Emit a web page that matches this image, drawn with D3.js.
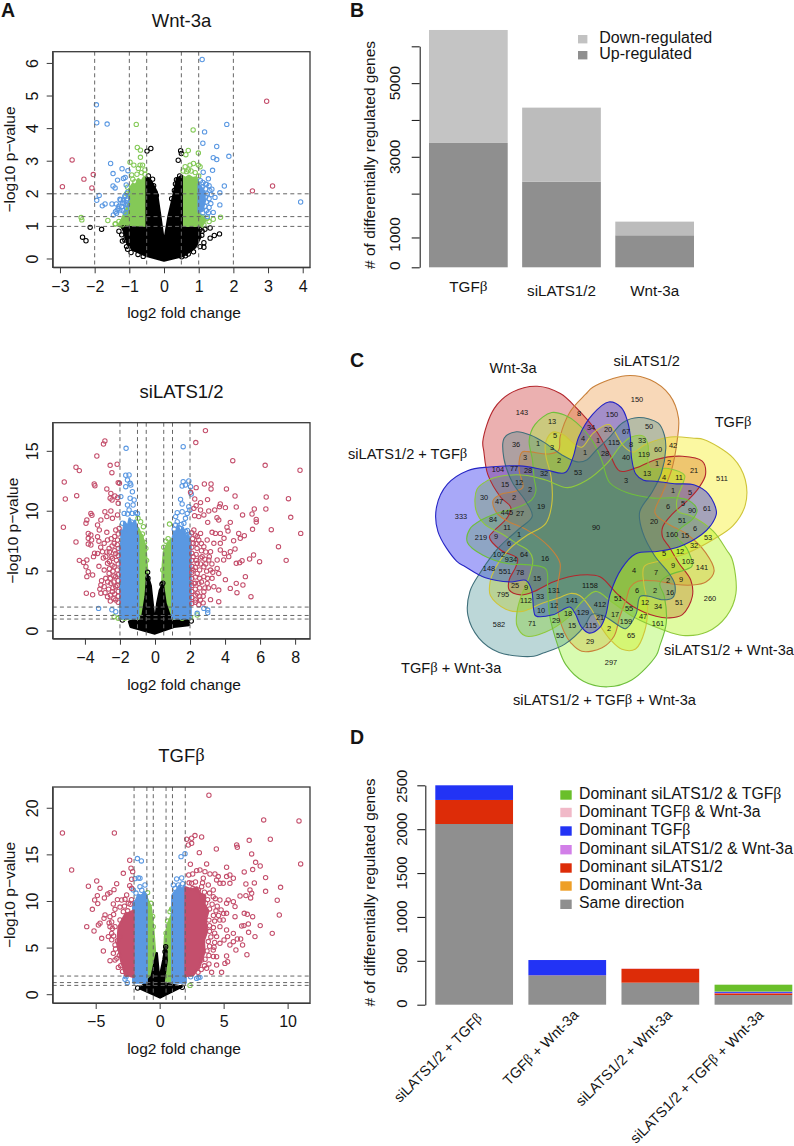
<!DOCTYPE html>
<html><head><meta charset="utf-8">
<style>
html,body{margin:0;padding:0;background:#fff}
text{font-family:"Liberation Sans",Arial,sans-serif;fill:#141414}
.beta{font-family:"Liberation Serif",serif}
</style>
<script src="https://cdn.jsdelivr.net/npm/d3@7/dist/d3.min.js"></script>
</head><body>
<svg id="fig" width="794" height="1146" viewBox="0 0 794 1146"></svg>
<script>
// ---------- Panel A: volcano plots (x = log2 FC, y = -log10 p) ----------
const wntRed=[[-2.93,2.22],[-2.65,3.04],[-2.31,2.45],[-2.04,2.59],[-2.08,2.18],[2.96,4.84],[3.13,2.24],[2.55,2.09]];
const wntBlue=[[1.10,6.12],[-1.95,4.73],[-1.94,4.18],[-1.64,4.14],[1.81,4.13],[1.17,3.90],[1.12,3.55],[1.52,3.45],[1.87,3.15],[1.42,3.11],[1.52,3.05],[-1.54,2.93],[-1.47,2.62],[-1.21,2.77],[-1.04,2.71],[-1.34,2.42],[-1.17,2.47],[-1.12,2.5],[-1.09,2.27],[-1.47,2.24],[-1.41,2.18],[-1.87,1.95],[-1.94,1.8],[-1.78,1.63],[-1.70,1.69],[-1.5,1.69],[-1.375,1.69],[-1.27,1.83],[-1.17,1.81],[-1.13,1.91],[-1.32,1.55],[-1.15,1.71],[-1.22,1.61],[-1.37,1.40],[-1.46,1.35],[-1.27,1.50],[-1.10,1.66],[-1.08,1.81],[-1.25,1.81],[1.13,2.66],[1.40,2.72],[1.28,2.46],[1.74,2.24],[1.23,2.29],[1.61,2.03],[1.47,1.89],[1.61,1.66],[1.42,1.43],[3.94,1.75],[1.38,2.14],[1.25,1.3],[1.05,2.4],[1.12,2.35],[1.2,2.3],[1.3,2.25],[1.1,2.2],[1.2,2.15],[1.32,2.1],[1.1,2.05],[1.25,2],[1.36,1.98],[1.12,1.95],[1.2,1.9],[1.3,1.85],[1.1,1.8],[1.22,1.75],[1.35,1.7],[1.08,1.68],[1.18,1.62],[1.3,1.58],[1.07,1.52],[1.22,1.48],[1.12,1.42],[1.28,1.42],[-1.05,1.85],[-1.2,1.72],[-1.08,1.55],[-1.18,1.48],[-1.3,1.62],[-1.12,1.42],[-1.05,1.68],[-1.35,1.5],[-1.4,1.45],[-1.05,2.05],[-1.12,1.95]];
const wntGreen=[[-0.80,4.13],[0.84,3.96],[-0.77,3.42],[-0.68,3.34],[-0.68,3.12],[0.70,3.33],[0.63,3.2],[0.99,3.25],[-0.98,2.97],[-0.87,2.88],[-0.69,2.88],[-0.62,2.88],[-0.74,2.78],[-0.55,2.73],[0.75,2.88],[0.85,2.93],[0.99,2.88],[0.61,2.83],[1.04,2.83],[0.7,2.73],[-0.93,2.58],[-0.84,2.37],[-2.39,1.27],[-2.37,1.2],[-1.62,1.18],[-1.41,1.07],[1.63,1.28],[1.42,1.22],[-0.55,2.6],[-0.65,2.65],[-0.78,2.6],[-0.9,2.45],[-1.05,2.2],[-1.08,2.0],[0.55,2.7],[0.65,2.68],[0.78,2.7],[0.9,2.65],[1.0,2.55],[-1.3,1.15],[-1.2,1.05],[-1.1,1.25],[-1.4,1.08],[1.1,1.3],[1.25,1.25],[1.3,1.15],[1.15,1.05],[1.05,1.15]];
const wntBlack=[[-0.49,3.31],[-0.38,3.39],[0.48,3.32],[0.5,3.24],[0.41,3.03],[-2.13,0.97],[-1.80,0.91],[-2.35,0.67],[-2.25,0.56],[1.18,0.91],[1.33,0.95],[1.33,0.64],[1.45,0.72],[1.6,0.77],[1.15,0.36],[-1.13,0.58],[-1.22,0.74],[-1.08,0.38],[-0.88,0.33],[1.04,0.38],[0.85,0.22],[0.51,0.07],[0.70,0.15],[1.09,0.73],[-0.45,2.55],[-0.33,2.45],[0.36,2.43],[0.45,2.55],[-1.2,0.55],[-1.15,0.95],[-1.05,0.3],[-0.95,0.2],[-0.75,0.14],[-0.6,0.08],[1.1,0.85],[1.15,0.5],[0.75,0.28],[0.62,0.1],[-1.3,0.85],[1.03,0.9],[-0.3,2.25],[-0.22,1.95],[-0.42,2.28],[0.3,2.1],[0.33,2.3],[0.22,1.85]];
const wntBlackMass=[[-0.5,2.5],[-0.38,2.4],[-0.21,2.05],[-0.12,1.4],[0,0.48],[0.13,1.3],[0.27,1.95],[0.37,2.45],[0.51,2.55],[0.51,0.94],[1.0,0.94],[1.05,0.68],[0.9,0.36],[0.56,0.1],[0,-0.05],[-0.5,0.1],[-0.85,0.26],[-1.05,0.45],[-1.15,0.84],[-1.2,0.99],[-0.5,0.94]];
const wntGreenMass=[[[-0.5,0.94],[-1.18,0.94],[-1.32,1.04],[-1.22,1.2],[-1.0,1.75],[-1.0,2.15],[-0.9,2.3],[-0.82,2.25],[-0.74,2.45],[-0.65,2.38],[-0.58,2.5],[-0.5,2.5]],[[0.51,2.55],[0.62,2.48],[0.72,2.55],[0.82,2.48],[0.92,2.5],[1.0,2.35],[1.0,1.4],[1.2,1.2],[1.08,0.99],[0.51,0.94]]];
const wntBlueMass=[[[1.0,2.3],[1.14,2.1],[1.18,1.8],[1.12,1.55],[1.0,1.45]]];
const wntRedMass=[];

const latsRed=[[-2.94,15.61],[-2.86,15.86],[-3.32,14.61],[-4.51,13.67],[-4.32,13.39],[-2.16,13.92],[-2.56,13.83],[-2.46,13.22],[-5.18,12.44],[-3.47,12.27],[-3.43,12.13],[-2.10,12.39],[-2.03,12.33],[-2.75,11.86],[-5.12,11.02],[-4.47,11.30],[-2.52,11.49],[-2.29,11.27],[-2.14,11.13],[-2.56,11.08],[-2.45,10.94],[-2.10,10.66],[-5.23,8.66],[-4.51,7.43],[-3.66,9.82],[-3.60,9.66],[-3.89,9.27],[-3.94,8.99],[-2.86,9.96],[-2.52,10.02],[-2.14,9.69],[-2.75,9.55],[-2.43,9.41],[-3.09,9.27],[-3.28,8.85],[-3.18,8.43],[-3.81,8.15],[-3.66,8.02],[-3.81,7.74],[-3.62,7.60],[-3.81,7.26],[-3.66,7.18],[-3.28,7.88],[-2.75,8.24],[-2.24,8.43],[-2.05,8.57],[-4.32,5.90],[-4.08,5.73],[-3.89,5.93],[-3.94,5.37],[-3.81,4.95],[-3.89,4.54],[-3.56,4.68],[-3.92,3.15],[-3.56,3.03],[-3.51,6.21],[-3.28,6.48],[-2.90,7.32],[-2.71,7.60],[-3.0,6.62],[-2.62,6.90],[-2.33,7.32],[-2.14,7.60],[-2.81,6.21],[-2.43,6.07],[-2.24,6.48],[-2.71,5.65],[-2.33,5.37],[-2.90,5.09],[-2.62,4.81],[-2.24,4.54],[-2.81,4.40],[-3.09,3.84],[-2.90,3.70],[-2.52,3.98],[-2.24,3.70],[-3.09,3.15],[-2.71,2.87],[-2.43,3.28],[-2.24,2.59],[2.88,16.73],[2.33,15.73],[4.44,14.22],[6.29,13.83],[8.28,13.42],[6.35,11.19],[7.62,11.05],[4.57,11.27],[4.08,11.86],[3.20,12.27],[2.82,12.27],[3.20,11.86],[2.35,11.97],[2.03,11.58],[3.0,10.97],[2.27,11.02],[2.60,10.72],[2.35,10.46],[3.73,10.60],[3.68,10.38],[4.02,10.30],[4.64,10.35],[6.33,10.19],[5.67,10.19],[5.54,9.77],[5.0,9.69],[5.78,9.32],[5.78,9.10],[7.75,9.49],[2.22,10.24],[2.60,10.10],[3.07,10.02],[3.41,10.10],[2.26,9.63],[2.79,9.69],[2.50,9.55],[3.01,9.07],[3.54,9.46],[3.64,9.27],[4.30,9.07],[4.11,8.66],[4.17,8.35],[6.64,8.46],[5.57,8.49],[8.32,8.15],[4.78,8.15],[5.10,7.96],[4.87,7.74],[4.49,7.54],[7.05,7.04],[7.49,5.90],[5.97,5.79],[5.63,6.35],[5.40,6.01],[4.97,5.87],[4.83,5.71],[4.64,5.65],[4.57,6.85],[4.30,6.62],[3.96,6.48],[4.21,6.21],[5.16,4.54],[4.02,4.29],[4.64,3.98],[5.02,3.84],[4.30,3.56],[4.68,3.20],[5.48,2.87],[3.64,2.45],[3.17,2.62],[3.73,8.15],[3.45,8.15],[3.26,8.24],[3.94,7.74],[3.73,7.32],[3.36,7.32],[2.98,7.6],[2.6,8.15],[2.41,7.88],[2.22,8.43],[2.79,7.04],[3.17,6.62],[3.73,6.76],[3.55,5.93],[3.92,5.93],[3.07,5.93],[2.69,6.21],[2.41,5.65],[2.79,5.37],[3.17,5.09],[3.55,5.23],[3.64,4.81],[3.26,4.40],[2.79,4.54],[2.41,4.81],[2.50,3.98],[2.98,3.98],[3.36,3.70],[3.64,3.42],[2.79,3.28],[2.41,3.15],[2.6,2.59],[2.31,2.59],[2.22,3.98],[2.18,5.09],[2.18,6.21],[2.18,7.32],
[-2.1,8.1],[-2.3,7.9],[-2.5,7.7],[-2.15,7.2],[-2.45,7.1],[-2.1,6.9],[-2.6,6.6],[-2.3,6.7],[-2.1,6.3],[-2.5,6.2],[-2.75,6.6],[-2.95,6.1],[-2.2,5.9],[-2.6,5.8],[-2.1,5.6],[-2.45,5.5],[-2.15,5.1],[-2.4,5.0],[-2.6,5.2],[-2.1,4.7],[-2.35,4.6],[-2.55,4.4],[-2.1,4.2],[-2.35,4.1],[-2.7,4.1],[-2.15,3.8],[-2.4,3.6],[-2.65,3.5],[-2.1,3.3],[-2.3,3.1],[-2.55,3.0],[-2.85,3.2],[-2.1,2.9],[-2.35,2.7],[-2.55,2.5],[-2.1,2.4],[-3.15,3.5],[-3.05,4.2],[-3.2,5.4],[-3.1,7.0],[-3.45,6.5],[-3.2,7.5],
[2.1,8.2],[2.3,8.0],[2.5,7.6],[2.15,7.7],[2.35,7.3],[2.65,7.3],[2.1,7.0],[2.4,6.9],[2.65,6.7],[2.9,6.6],[2.1,6.5],[2.35,6.4],[2.6,6.1],[2.85,6.0],[3.1,6.2],[2.1,5.9],[2.35,5.9],[2.6,5.6],[2.9,5.6],[3.25,5.6],[2.1,5.4],[2.3,5.3],[2.55,5.1],[2.95,5.0],[3.3,4.9],[2.1,4.9],[2.3,4.5],[2.55,4.4],[3.0,4.4],[2.1,4.4],[2.3,4.0],[2.65,4.1],[3.05,3.6],[2.1,3.8],[2.3,3.5],[2.55,3.6],[2.85,3.6],[2.1,3.3],[2.3,3.0],[2.55,2.9],[2.1,2.8],[2.3,2.4],[2.5,2.2],[2.1,2.3],[2.75,2.9],[2.75,2.35]];
const latsBlue=[[-1.65,15.25],[1.61,15.39],[-1.67,13.0],[-1.48,13.03],[-1.57,12.61],[-1.42,12.33],[-1.67,12.05],[-1.38,12.19],[-1.29,11.63],[-1.42,11.08],[-1.19,10.94],[-1.95,11.22],[-1.25,10.52],[-1.57,10.52],[-1.48,10.1],[-1.76,9.82],[-1.57,9.77],[-1.29,9.82],[-1.1,9.88],[-1.0,9.82],[1.61,12.47],[1.93,12.52],[1.55,12.11],[1.74,12.19],[2.03,12.05],[2.07,11.44],[1.46,10.99],[1.55,10.6],[1.93,10.38],[1.99,10.1],[1.27,9.88],[1.55,9.96],[1.84,9.82],[1.18,9.55],[1.74,9.41],[1.27,9.13],[1.65,8.99],[1.18,8.85],[-3.22,1.89],[-2.46,1.78],[-2.24,1.61],[3.01,1.75],[3.01,1.53],[2.79,1.89],[2.41,1.48],[-1.85,9.0],[-1.7,8.4],[-1.35,9.1],[-1.2,8.9],[-1.1,8.6],[1.1,8.5],[1.4,8.6],[1.5,8.9],[1.85,8.4],[1.95,8.0],[1.75,8.3]];
const latsGreen=[[0.83,8.93],[-0.82,9.13],[-0.66,8.71],[-0.97,9.41],[-0.72,8.1],[-2.33,1.2],[-1.95,1.14],[-1.48,1.14],[-1,1.14],[1.08,1.14],[1.55,1.06],[2.03,1.14],[2.41,1.34],[-1.73,1.06],[-2.1,1.06],[-0.8,7.9],[-0.6,7.4],[-0.52,6.9],[0.62,7.5],[0.75,7.7],[0.5,7.0],[-0.48,5.9],[0.44,5.1]];
const latsBlack=[[2.07,0.83],[-1.86,0.92],[-0.42,4.9],[-0.4,4.4],[0.4,3.9],[0.45,4.0]];
const latsBlackMass=[[-0.44,4.7],[-0.25,3.8],[-0.1,1.8],[0,0.65],[0.13,2.3],[0.28,3.4],[0.45,3.9],[0.6,2.31],[0.89,1.06],[1.84,1.06],[1.93,0.5],[1.08,0.36],[0,-0.2],[-1.39,0.36],[-1.48,0.78],[-0.72,1.2],[-0.53,2.9]];
const latsGreenMass=[[[-0.97,1.06],[-0.97,8.6],[-0.72,7.8],[-0.55,7.1],[-0.44,4.81],[-0.63,2.59],[-0.66,1.06]],[[0.99,1.06],[0.99,7.7],[0.72,7.3],[0.51,6.6],[0.45,5.5],[0.42,3.98],[0.64,2.31],[0.8,1.06]]];
const latsBlueMass=[[[-1.97,1.06],[-2.0,7.0],[-1.9,7.6],[-1.95,8.4],[-1.8,8.3],[-1.75,9.1],[-1.55,8.7],[-1.45,9.4],[-1.3,8.6],[-1.15,9.2],[-1.05,8.4],[-0.97,7.9],[-0.97,1.06]],[[0.99,1.06],[0.99,7.6],[1.1,8.3],[1.2,8.1],[1.3,8.8],[1.45,8.2],[1.6,8.6],[1.75,7.9],[1.9,8.0],[2.03,7.2],[2.03,1.06]]];
const latsRedMass=[];

const tgfRed=[[3.85,21.4],[8.13,18.75],[10.89,18.64],[-7.6,17.35],[-3.54,17.35],[8.65,16.67],[7.0,16.56],[6.02,16.06],[6.07,15.81],[4.43,15.63],[7.19,15.10],[3.10,15.24],[-6.88,13.38],[-2.34,14.42],[-2.24,13.56],[-2.84,13.02],[11.02,14.03],[3.67,14.03],[2.40,13.99],[7.5,14.2],[7.86,13.81],[7.27,13.42],[6.61,13.17],[5.23,13.67],[8.28,12.56],[7.40,11.99],[6.74,11.88],[8.28,11.09],[9.45,11.52],[7.06,11.23],[7.19,10.88],[6.74,10.63],[7.11,10.38],[6.28,10.59],[9.19,10.13],[9.35,8.55],[8.8,6.58],[7.86,7.41],[6.85,8.62],[6.61,8.73],[7.27,8.37],[6.41,7.37],[6.93,7.59],[6.59,7.41],[6.95,6.69],[7.45,6.23],[6.33,5.97],[6.07,5.97],[6.48,5.33],[6.82,4.29],[5.23,4.15],[5.31,3.54],[5.10,3.36],[4.84,2.4],[4.06,2.4],[5.96,4.79],[5.76,5.69],[5.31,6.23],[5.03,5.87],[5.49,5.33],[2.11,16.67],[2.5,16.78],[2.76,17.07],[3.28,16.92],[2.24,16.06],[2.5,16.24],[3.15,13.38],[3.54,13.2],[3.93,12.95],[4.32,12.95],[4.58,12.67],[4.71,11.95],[4.97,11.95],[5.23,12.67],[5.49,12.84],[5.76,12.49],[5.49,11.95],[4.45,12.31],[4.19,11.23],[4.19,10.52],[4.71,10.16],[5.23,9.8],[5.76,9.98],[5.36,10.16],[5.89,9.45],[5.23,8.73],[5.89,8.37],[4.97,8.01],[4.71,7.3],[5.23,6.94],[5.76,6.58],[4.45,6.23],[4.71,5.51],[4.19,4.79],[4.45,4.08],[4.45,3.18],[3.67,2.83],[3.28,3.72],[2.89,13.31],[2.58,12.95],[2.27,12.84],[2.5,11.95],[3.41,12.49],[3.8,11.77],[3.28,11.59],[3.02,11.23],[-5.57,11.63],[-4.92,12.2],[-4.66,11.41],[-4.87,10.63],[-5.08,10.16],[-4.84,9.77],[-5.26,9.16],[-5.70,7.30],[-5.13,6.83],[-3.36,11.91],[-3.57,11.27],[-3.88,10.95],[-4.06,10.8],[-4.32,10.38],[-2.34,11.7],[-2.19,11.41],[-2.58,10.7],[-2.71,10.23],[-2.97,10.16],[-3.62,9.73],[-3.49,9.16],[-2.19,12.38],[-2.11,13.2],[-4.66,7.66],[-4.79,7.48],[-4.27,8.55],[-4.35,8.19],[-3.88,8.37],[-4.53,6.05],[-4.4,4.69],[-3.88,3.65],[-3.49,3.72],[-3.23,2.93],[-3.62,4.44],[-3.49,5.33],[-3.1,6.23],[-4.01,6.23],[-3.75,6.58],[-3.88,7.3],[-3.49,7.3],[-3.1,8.01],[-2.84,8.91],[-2.45,9.8],
[3.5,11.0],[3.9,10.9],[3.3,10.5],[3.75,10.2],[4.35,10.3],[3.6,9.8],[4.1,9.7],[4.5,9.5],[3.9,9.2],[4.4,9.0],[4.8,9.1],[5.0,8.7],[4.2,8.5],[4.6,8.5],[3.85,8.0],[4.3,7.9],[4.7,8.0],[3.9,7.4],[4.2,7.2],[3.9,6.8],[4.3,6.6],[4.0,6.2],[3.8,5.7],[4.3,5.6],[3.9,5.2],[4.25,5.1],[3.7,4.7],[3.85,4.2],[4.2,4.1],[3.55,3.8],[3.85,3.3],[3.5,3.1],[3.25,2.7],[3.0,2.4],[3.35,12.0],[2.8,12.1],[2.3,12.0],[2.6,11.4],
[-3.3,10.2],[-3.6,8.6],[-3.1,9.4],[-3.75,7.8],[-3.95,7.7],[-3.7,7.1],[-3.6,6.3],[-3.75,5.9],[-3.3,5.8],[-3.45,4.9],[-3.15,4.2],[-3.35,3.9],[-3.05,3.1],[-2.9,2.5],[-2.6,2.2],[-2.75,9.5],[-2.5,9.0],[-2.3,9.7],[-2.2,10.2]];
const tgfBlue=[[-1.74,14.6],[-1.43,14.35],[-1.93,12.45],[-1.67,12.52],[-1.54,12.49],[-1.54,11.59],[-1.15,11.77],[-2.06,11.23],[1.67,14.81],[1.98,15.13],[1.33,12.42],[1.72,12.52],[1.07,11.77],[1.46,11.77],[-2.53,1.29],[-2.63,1.93],[-2.71,1.65],[2.89,1.75],[3.15,1.86],[3.02,1.86],[2.42,1.93],[-1.85,10.9],[-1.4,11.2],[1.2,11.4],[1.8,11.9]];
const tgfGreen=[[-0.94,10.95],[-0.68,9.8],[0.94,9.2],[0.81,8.91],[0.99,9.09],[2.37,1.0],[-0.55,8.4],[-0.5,7.3],[0.62,7.9],[0.5,6.6]];
const tgfBlack=[[0.47,5.15],[0.42,4.6],[-1.72,0.72],[1.77,0.79]];
const tgfBlackMass=[[-0.63,1.93],[-0.23,4.44],[-0.03,1.57],[0.29,3.72],[0.47,5.15],[0.55,3.72],[0.29,1.22],[1.72,0.86],[0.03,-0.29],[-1.54,0.68]];
const tgfGreenMass=[[[-1.02,1.3],[-1.02,10.4],[-0.7,9.4],[-0.52,7.3],[-0.36,4.44],[-0.23,1.57]],[[0.99,1.3],[0.99,8.7],[0.68,7.7],[0.42,6.23],[0.34,3.72],[0.29,1.57]]];
const tgfBlueMass=[[[-2.06,1.3],[-2.06,9.9],[-1.85,10.1],[-1.67,10.7],[-1.4,10.6],[-1.2,11.0],[-1.02,10.6],[-1.02,1.3]],[[0.99,1.3],[0.99,10.6],[1.15,11.0],[1.33,11.2],[1.55,11.7],[1.75,11.2],[1.93,11.7],[2.03,11.2],[2.03,1.3]]];
const tgfRedMass=[[[-2.06,9.0],[-2.7,8.6],[-3.2,7.3],[-3.3,5.5],[-3.0,3.6],[-2.7,2.2],[-2.06,1.93]],[[2.03,11.5],[2.5,11.3],[2.9,11.5],[3.2,10.8],[3.55,10.6],[3.5,9.7],[3.8,9.0],[3.6,8.0],[3.7,6.8],[3.45,5.8],[3.5,4.6],[3.1,3.0],[2.6,2.1],[2.03,2.0]]];

const volcanoVLines=[-2,-1,-0.5,0.5,1,2];
const volcanoHLines=[1,1.3,2];
const wntXTicks=[-3,-2,-1,0,1,2,3,4], wntYTicks=[0,1,2,3,4,5,6];
const latsXTicks=[-4,-2,0,2,4,6,8], latsYTicks=[0,5,10,15];
const tgfXTicks=[-5,0,5,10], tgfYTicks=[0,5,10,15,20];

// ---------- Panel B ----------
const bCategories=["TGFβ","siLATS1/2","Wnt-3a"];
const bUp=[3376,2326,869];
const bDown=[3067,2009,371];
const bLegend=["Down-regulated","Up-regulated"];
const bTickValues=[0,810,2000,3000,4000,5000,6000];
const bTickLabels=["0","1000","","3000","","5000",""];

// ---------- Panel C: 7-set Venn ----------
const vennSets=["Wnt-3a","siLATS1/2","TGFβ","siLATS1/2 + Wnt-3a","siLATS1/2 + TGFβ + Wnt-3a","TGFβ + Wnt-3a","siLATS1/2 + TGFβ"];
const vennOutline=[[-57.3,-143.7],[-34,-136.3],[-17.3,-121.3],[2.7,-98],[16,-74.7],[26,-58],[42.7,-61.3],[62.7,-69.7],[89.3,-73],[109.3,-68],[112.7,-54.7],[106,-41.3],[96,-29.7],[79.3,-14.7],[69.3,-1.3],[69.3,8.7],[76,18.7],[86,35.3],[97.7,52],[99.3,68.7],[89.3,87],[76,90.3],[62.7,88.7],[39.3,78.7],[22.7,65.3],[6,48.7],[-14,47],[-40.7,53.7],[-60.7,63.7],[-74,67],[-85.7,62],[-85.7,52],[-79,38.7],[-77.3,30.3],[-94,22],[-105.7,8.7],[-102.3,3.7],[-87.3,-11.3],[-84,-21.3],[-94,-31.3],[-107.3,-54.7],[-111.3,-78],[-112.3,-88],[-100.7,-121.3],[-82,-138]];
const vennFill=["#be0000","#e67400","#f4ec00","#abf400","#96f429","#207b7d","#0000ea"];
const vennAlpha=[0.31,0.28,0.37,0.37,0.37,0.30,0.34];
const vennStroke=["#b3262c","#c9813a","#cfc53a","#8fc93c","#6fbf3c","#3f6f7a","#2424c4"];
const vennDrawOrder=[0,1,2,3,4,6,5];
// counts and the spot (in reference pixels) where each is printed
const vennCounts=[143,13,5,8,34,150,20,4,1,115,36,1,3,1,28,3,2,104,77,28,32,53,15,12,2,30,2,47,19,445,27,333,84,11,90,219,9,1,6,
150,50,67,33,8,60,42,119,40,1,2,21,511,13,4,11,3,1,5,6,5,90,61,20,51,6,160,15,53,32,
5,12,9,103,141,4,7,2,9,6,2,16,260,51,12,51,34,55,17,47,159,161,2,65,297,
102,64,934,16,148,551,78,15,25,9,1158,795,131,33,112,141,412,12,10,18,129,21,582,71,29,15,115,55,29];
const vennCountSpots=[[522,413],[552,422],[555,436],[579,414],[591,428],[612,415],[608,430],[583,439],[598,441],[614,443],[516,445],[538,444],[552,448],[585,453],[605,454],[525,458],[559,461],[498,470],[514,469],[528,471],[544,474],[578,473],[505,485],[519,483],[530,490],[484,498],[514,498],[499,502],[541,507],[507,513],[520,514],[461,517],[493,520],[507,528],[596,528],[481,538],[496,537],[519,535],[509,544],
[637,400],[649,427],[626,432],[642,441],[631,445],[658,450],[673,446],[644,455],[626,458],[657,464],[669,463],[694,471],[722,479],[647,474],[664,478],[679,478],[626,481],[673,491],[690,493],[668,507],[683,504],[692,511],[707,509],[654,522],[682,521],[695,529],[672,535],[685,536],[708,538],[694,546],
[664,554],[680,552],[673,566],[688,562],[702,568],[634,571],[656,573],[668,581],[681,580],[637,591],[655,591],[670,593],[710,599],[618,599],[645,603],[679,603],[658,607],[629,609],[615,615],[643,617],[626,622],[658,624],[609,629],[631,636],[611,663],
[499,555],[524,555],[511,560],[545,559],[489,569],[505,572],[520,573],[537,579],[515,586],[526,588],[590,586],[503,595],[554,591],[540,597],[526,601],[572,601],[600,605],[554,606],[541,611],[568,614],[583,613],[600,618],[499,625],[532,624],[556,621],[572,626],[591,626],[560,636],[590,642]];

// ---------- Panel D ----------
const dCategories=["siLATS1/2 + TGFβ","TGFβ + Wnt-3a","siLATS1/2 + Wnt-3a","siLATS1/2 + TGFβ + Wnt-3a"];
const dSeriesNames=["Same direction","Dominant Wnt-3a","Dominant siLATS1/2","Dominant siLATS1/2 & Wnt-3a","Dominant TGFβ","Dominant TGFβ & Wnt-3a","Dominant siLATS1/2 & TGFβ"];
const dSame=[2059,327,251,110];
const dWnt=[0,6,0,0];
const dLats=[274,0,156,20];
const dLatsWnt=[0,0,0,5];
const dTgf=[167,176,0,13];
const dTgfWnt=[0,0,9,2];
const dLatsTgf=[0,0,0,78];
const dSeriesValues=[dSame,dWnt,dLats,dLatsWnt,dTgf,dTgfWnt,dLatsTgf];
const dColors=["#8f8f8f","#ee9f27","#dd2c08","#d27fe8","#2233f5","#f1b9c8","#6abf2a"];
const dTicks=[0,500,1000,1500,2000,2500];

// ---------- Helpers ----------
const svg=d3.select("#fig");
const sans='"Liberation Sans",Arial,sans-serif';
function addText(sel,str,size){ // real text, with a Greek beta set in the serif face
  const parts=str.split("β");
  parts.forEach((p,i)=>{
    if(p) sel.append("tspan").text(p).style("font-size",size+"px");
    if(i<parts.length-1) sel.append("tspan").attr("class","beta").text("β").style("font-size",size+"px");
  });
  return sel;
}
function label(x,y,str,size,anchor="middle",rot=0){
  const t=svg.append("text").attr("text-anchor",anchor).attr("dominant-baseline","middle")
    .attr("transform",`translate(${x},${y}) rotate(${rot})`);
  return addText(t,str,size);
}
const line=d3.line();
function volcano(p){
  const x=d3.scaleLinear().domain(p.xd).range([52.7,310]);
  const y=d3.scaleLinear().domain(p.yd).range([p.bottom,p.top]);
  const g=svg.append("g");
  const clipId="clip"+p.id;
  g.append("clipPath").attr("id",clipId).append("rect").attr("x",52.7).attr("y",p.top).attr("width",257.3).attr("height",p.bottom-p.top);
  const plot=g.append("g").attr("clip-path",`url(#${clipId})`);
  const mass=(polys,col)=>polys.forEach(m=>plot.append("path").attr("d",line(m.map(d=>[x(d[0]),y(d[1])]))+"Z")
      .attr("fill",col).attr("stroke",col).attr("stroke-width",2.5).attr("stroke-linejoin","round"));
  const pts=(arr,col)=>plot.append("g").selectAll("circle").data(arr).join("circle")
      .attr("cx",d=>x(d[0])).attr("cy",d=>y(d[1])).attr("r",2.2).attr("fill","none").attr("stroke",col).attr("stroke-width",1.05);
  const cBlack="#000",cGreen="#84c957",cBlue="#5a98e2",cRed="#c44f6c";
  mass(p.greenMass,cGreen); mass([p.blackMass],cBlack); pts(p.black,cBlack); pts(p.green,cGreen);
  mass(p.blueMass,cBlue); pts(p.blue,cBlue);
  mass(p.redMass,cRed); pts(p.red,cRed);
  const dash={stroke:"#666","stroke-width":1,"stroke-dasharray":"4 3.2"};
  volcanoVLines.forEach(v=>{const l=plot.append("line").attr("x1",x(v)).attr("x2",x(v)).attr("y1",p.top).attr("y2",p.bottom);for(const k in dash)l.attr(k,dash[k]);});
  volcanoHLines.forEach(v=>{const l=plot.append("line").attr("x1",52.7).attr("x2",310).attr("y1",y(v)).attr("y2",y(v));for(const k in dash)l.attr(k,dash[k]);});
  g.append("rect").attr("x",52.7).attr("y",p.top).attr("width",257.3).attr("height",p.bottom-p.top).attr("fill","none").attr("stroke","#3a3a3a").attr("stroke-width",1.3);
  const ax=g.append("g").attr("transform",`translate(0,${p.bottom})`).call(d3.axisBottom(x).tickValues(p.xt).tickSize(6).tickSizeOuter(0).tickPadding(7).tickFormat(d=>String(d).replace("-","\u2212")));
  ax.select(".domain").attr("stroke","#3a3a3a");
  ax.selectAll("line").attr("stroke","#3a3a3a");
  ax.selectAll("text").style("font-size","16px").style("font-family",sans);
  const ay=g.append("g").attr("transform","translate(52.7,0)").call(d3.axisLeft(y).tickValues(p.yt).tickSize(6).tickSizeOuter(0).tickFormat(d=>String(d)));
  ay.select(".domain").attr("stroke","#3a3a3a");
  ay.selectAll("line").attr("stroke","#3a3a3a");
  ay.selectAll("text").style("font-size","16px").style("font-family",sans).attr("x",-19).attr("dy",null)
    .attr("text-anchor","middle").attr("dominant-baseline","middle").attr("transform",d=>`rotate(-90,-19,${y(d)})`).attr("y",d=>y(d));
  ay.selectAll(".tick").attr("transform",null);
  ay.selectAll(".tick line").attr("y1",d=>y(d)).attr("y2",d=>y(d));
  label(181.5,p.top-30,p.title,18.5);
  label(184,p.bottom+47,"log2 fold change",15.5);
  label(p.ylabX||11,(p.top+p.bottom)/2,"\u2212log10 p\u2212value",15.5,"middle",-90);
}
function panelTag(x,y,s){ label(x,y,s,19.5,"start").selectAll("tspan").style("font-weight","bold"); }

// ---------- Panel A draw ----------
panelTag(1,11.5,"A");
volcano({id:"w",title:"Wnt-3a",top:51.7,bottom:267.3,xd:[-3.21,4.21],yd:[-0.255,6.36],xt:wntXTicks,yt:wntYTicks,
  red:wntRed,blue:wntBlue,green:wntGreen,black:wntBlack,blackMass:wntBlackMass,greenMass:wntGreenMass,blueMass:wntBlueMass,redMass:wntRedMass});
volcano({id:"l",title:"siLATS1/2",top:422.7,bottom:638.7,xd:[-5.84,8.85],yd:[-0.64,17.39],xt:latsXTicks,yt:latsYTicks,
  red:latsRed,blue:latsBlue,green:latsGreen,black:latsBlack,blackMass:latsBlackMass,greenMass:latsGreenMass,blueMass:latsBlueMass,redMass:latsRedMass,ylabX:14});
volcano({id:"t",title:"TGFβ",top:787,bottom:1003,xd:[-8.36,11.75],yd:[-0.89,22.28],xt:tgfXTicks,yt:tgfYTicks,
  red:tgfRed,blue:tgfBlue,green:tgfGreen,black:tgfBlack,blackMass:tgfBlackMass,greenMass:tgfGreenMass,blueMass:tgfBlueMass,redMass:tgfRedMass});

// ---------- Panel B draw ----------
panelTag(350,11.5,"B");
(function(){
  const y=d3.scaleLinear().domain([0,6000]).range([267.3,46.3]);
  const x=d3.scaleBand().domain(bCategories).range([429,694]).paddingInner(0.155);
  const g=svg.append("g");
  bCategories.forEach((c,i)=>{
    g.append("rect").attr("x",x(c)).attr("width",x.bandwidth()).attr("y",y(bUp[i])).attr("height",y(0)-y(bUp[i])).attr("fill","#8f8f8f");
    g.append("rect").attr("x",x(c)).attr("width",x.bandwidth()).attr("y",y(bUp[i]+bDown[i])).attr("height",y(bUp[i])-y(bUp[i]+bDown[i])).attr("fill",i==0?"#c4c4c4":"#bcbcbc");
  });
  const ay=g.append("g").attr("transform","translate(419.7,0)").call(d3.axisLeft(y).tickValues(bTickValues).tickSize(8).tickSizeOuter(0).tickFormat(""));
  ay.selectAll("path,line").attr("stroke","#222").attr("stroke-width",1.1);
  bTickValues.forEach((v,i)=>{ if(bTickLabels[i]) label(396,y(v)-(i==0?1.5:(i==1?3:0)),bTickLabels[i],15.5,"middle",-90); });
  label(370.7,155,"# of differentially regulated genes",15.5,"middle",-90);
  bCategories.forEach((c,i)=>label(x(c)+x.bandwidth()/2,i==0?288:291.5,c,15.2));
  bLegend.forEach((t,i)=>{
    g.append("rect").attr("x",578).attr("y",35+i*16).attr("width",9.4).attr("height",8.4).attr("fill",i==0?"#c2c2c2":"#8f8f8f");
    label(599.3,39+i*15.5,t,16,"start");
  });
})();

// ---------- Panel C draw ----------
panelTag(350,362,"C");
(function(){
  const cx=d3.scaleLinear().domain([0,1]).range([594,594.99]);
  const cy=d3.scaleLinear().domain([0,1]).range([528.5,529.49]);
  const closed=d3.line().curve(d3.curveCatmullRomClosed.alpha(0.5));
  const angle=d3.scaleLinear().domain([0,vennSets.length]).range([0,2*Math.PI]);
  const g=svg.append("g");
  const outline=i=>{const a=angle(i),c=Math.cos(a),n=Math.sin(a);
    return closed(vennOutline.map(([u,v])=>[cx(u*c-v*n),cy(u*n+v*c)]));};
  vennDrawOrder.forEach(i=>g.append("path").attr("d",outline(i)).attr("fill",vennFill[i]).attr("fill-opacity",vennAlpha[i]));
  vennSets.forEach((s,i)=>g.append("path").attr("d",outline(i)).attr("fill","none").attr("stroke",vennStroke[i]).attr("stroke-width",1.1));
  g.append("g").selectAll("text").data(vennCounts).join("text")
    .attr("x",(d,i)=>vennCountSpots[i][0]).attr("y",(d,i)=>vennCountSpots[i][1])
    .attr("text-anchor","middle").attr("dominant-baseline","middle").style("font-size","7.4px").text(d=>d);
  const setLabelSpots=[[513,369,"middle"],[646.7,362,"middle"],[733,423,"middle"],[664,651,"start"],[513,701,"start"],[401,669,"start"],[348,455,"start"]];
  vennSets.forEach((s,i)=>label(setLabelSpots[i][0],setLabelSpots[i][1],s,14.6,setLabelSpots[i][2]));
})();

// ---------- Panel D draw ----------
panelTag(350,739,"D");
(function(){
  const y=d3.scaleLinear().domain([0,2500]).range([1004.7,785.3]);
  const x=d3.scaleBand().domain(dCategories).range([435.3,792.3]).paddingInner(0.165);
  const g=svg.append("g");
  const stacked=d3.stack().keys(dSeriesNames.map((d,i)=>i)).value((d,k)=>dSeriesValues[k][d])(dCategories.map((d,i)=>i));
  stacked.forEach((layer,k)=>{
    g.append("g").selectAll("rect").data(layer).join("rect")
      .attr("x",(d,i)=>x(dCategories[i])).attr("width",x.bandwidth())
      .attr("y",d=>y(d[1])).attr("height",d=>y(d[0])-y(d[1])).attr("fill",dColors[k]);
  });
  const ay=g.append("g").attr("transform","translate(425.3,0)").call(d3.axisLeft(y).tickValues(dTicks).tickSize(8).tickSizeOuter(0).tickFormat(""));
  ay.selectAll("path,line").attr("stroke","#222").attr("stroke-width",1.1);
  dTicks.forEach(v=>label(402.7,y(v)-(v==0?1:(v==2500?-1:0)),String(v),14.8,"middle",-90));
  label(370.7,892.5,"# of differentially regulated genes",15.5,"middle",-90);
  const ends=[[480.7,1016.7],[576.7,1013],[670,1013],[761.7,1013]];
  dCategories.forEach((c,i)=>label(ends[i][0],ends[i][1],c,14.5,"end",-45));
  const legendOrder=[6,5,4,3,2,1,0];
  const rows=[795,812.5,831,849.7,868,886,904.3];
  legendOrder.forEach((k,i)=>{
    g.append("rect").attr("x",560.3).attr("y",rows[i]-4.7).attr("width",11.4).attr("height",9.4).attr("fill",dColors[k]);
    label(579,rows[i],dSeriesNames[k],15.8,"start");
  });
})();
</script>
</body></html>
